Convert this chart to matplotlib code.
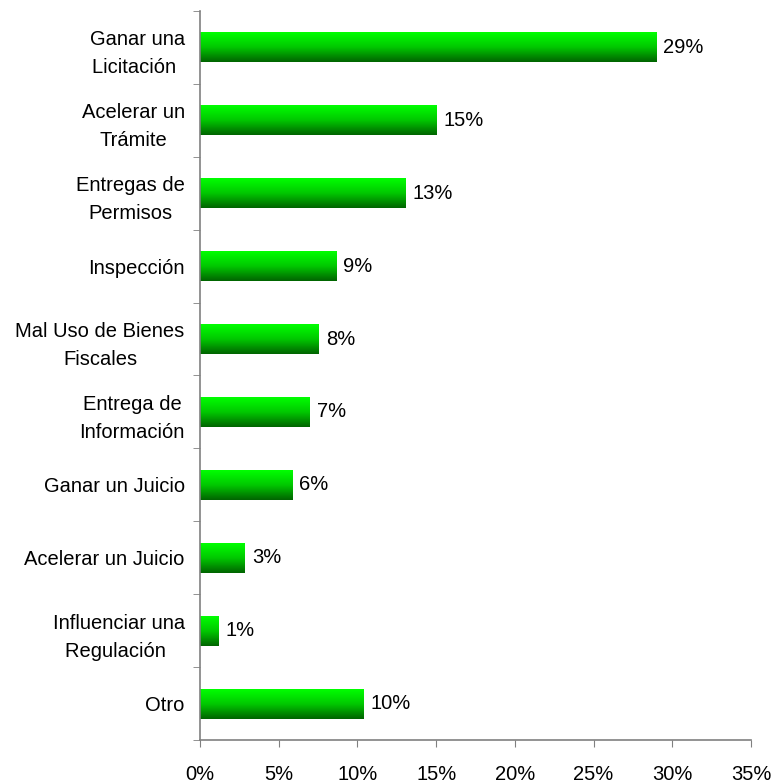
import matplotlib
matplotlib.use("Agg")
import matplotlib.pyplot as plt
import numpy as np
from matplotlib.colors import LinearSegmentedColormap

categories = ["Ganar una\nLicitación ", "Acelerar un\nTrámite", "Entregas de\nPermisos",
              "Inspección", "Mal Uso de Bienes\nFiscales", "Entrega de\nInformación",
              "Ganar un Juicio", "Acelerar un Juicio", "Influenciar una\nRegulación ", "Otro"]
values = [28.97, 15.0, 13.05, 8.65, 7.55, 6.95, 5.85, 2.85, 1.2, 10.4]
labels = ["29%", "15%", "13%", "9%", "8%", "7%", "6%", "3%", "1%", "10%"]
xticks = [0, 5, 10, 15, 20, 25, 30, 35]

plt.rcParams['font.family'] = ['Liberation Sans', 'DejaVu Sans']

fig = plt.figure(figsize=(7.74, 7.83), dpi=100)
ax = fig.add_axes([0.2584, 0.0549, 0.9703 - 0.2584, 0.986 - 0.0549])

# bright green on top, dark green at the bottom
cmap = LinearSegmentedColormap.from_list("g", ["#00ff00", "#00c800", "#006400"])
grad = np.linspace(0, 1, 64).reshape(-1, 1)
h = 0.41
ypos = np.arange(len(categories))
for y, v, lab in zip(ypos, values, labels):
    ax.imshow(grad, cmap=cmap, aspect='auto', origin='upper',
              extent=(0, v, y + h / 2, y - h / 2), interpolation='bilinear', zorder=2)
    ax.text(v + 0.45, y, lab, va='center', ha='left', fontsize=14.5)

ax.set_xlim(0, 35)
ax.set_ylim(len(categories) - 0.5, -0.5)
ax.set_xticks(xticks)
ax.set_xticklabels([f"{t}%" for t in xticks], fontsize=14.5)
ax.set_yticks(ypos)
ax.set_yticklabels(categories, fontsize=14.5, multialignment='center', linespacing=1.6)
ax.set_yticks(np.arange(-0.5, len(categories)), minor=True)
ax.tick_params(axis='y', which='major', length=0, pad=11)
ax.tick_params(axis='y', which='minor', length=5, color='#808080')
ax.tick_params(axis='x', length=5, color='#808080', pad=13)
for s in ['top', 'right']:
    ax.spines[s].set_visible(False)
for s in ['left', 'bottom']:
    ax.spines[s].set_color('#808080')
    ax.spines[s].set_linewidth(1.2)

fig.savefig("out.png", dpi=100)
